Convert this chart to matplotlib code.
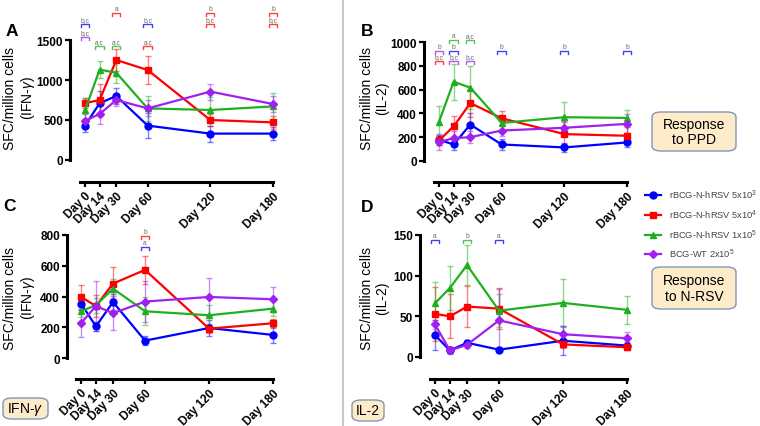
import matplotlib
matplotlib.use('Agg')
import matplotlib.pyplot as plt
from matplotlib.patches import FancyBboxPatch
from matplotlib.lines import Line2D

plt.rcParams['font.family'] = ['Liberation Sans', 'DejaVu Sans']
plt.rcParams['mathtext.fontset'] = 'custom'
plt.rcParams['mathtext.rm'] = 'Liberation Sans'
plt.rcParams['mathtext.it'] = 'Liberation Sans:italic'
plt.rcParams['mathtext.bf'] = 'Liberation Sans:bold'

W, H = 760, 427

# ---------------- data ----------------
days = [0, 14, 30, 60, 120, 180]
day_labels = ['Day 0', 'Day 14', 'Day 30', 'Day 60', 'Day 120', 'Day 180']
groups = ['rBCG-N-hRSV 5x10$^3$', 'rBCG-N-hRSV 5x10$^4$',
          'rBCG-N-hRSV 1x10$^5$', 'BCG-WT 2x10$^5$']
colors = ['#0000FF', '#FF0000', '#1FB01F', '#A020F0']
markers = ['o', 's', '^', 'D']

# Panel A: IFN-gamma, response to PPD
ifn_ppd_mean = [[430, 710, 800, 430, 330, 330],
                [710, 750, 1250, 1125, 500, 470],
                [620, 1130, 1090, 645, 625, 670],
                [490, 575, 750, 645, 855, 700]]
ifn_ppd_err = [[80, 150, 100, 160, 100, 80],
               [60, 200, 140, 180, 80, 80],
               [160, 110, 130, 160, 160, 170],
               [80, 120, 80, 100, 100, 100]]
# Panel B: IL-2, response to PPD
il2_ppd_mean = [[178, 139, 306, 139, 114, 156],
                [173, 290, 487, 359, 226, 212],
                [329, 666, 616, 320, 368, 362],
                [159, 192, 200, 256, 279, 312]]
il2_ppd_err = [[40, 50, 100, 50, 35, 40],
               [40, 90, 120, 60, 110, 70],
               [130, 150, 180, 60, 130, 70],
               [70, 60, 50, 50, 50, 80]]
# Panel C: IFN-gamma, response to N-RSV
ifn_rsv_mean = [[354, 206, 364, 113, 195, 150],
                [397, 338, 484, 573, 191, 226],
                [304, 343, 451, 304, 278, 321],
                [226, 338, 291, 367, 397, 382]]
ifn_rsv_err = [[40, 30, 50, 30, 50, 50],
               [80, 70, 110, 90, 30, 30],
               [40, 50, 60, 90, 65, 50],
               [90, 160, 110, 135, 125, 80]]
# Panel D: IL-2, response to N-RSV
il2_rsv_mean = [[27, 8, 17.5, 9, 20, 14],
                [53, 50, 62, 59.5, 15.5, 12],
                [66, 85, 113, 57, 66.5, 58],
                [40, 8, 15, 45, 28, 23]]
il2_rsv_err = [[18, 3, 4, 3, 18, 4],
               [33, 27, 25, 25, 5, 3],
               [26, 27, 25, 20, 30, 17],
               [5, 4, 4, 38, 10, 8]]

# significance brackets: (day, group index, level, text)
brackets_A = [(0, 0, 1700, 'b,c'), (0, 3, 1540, 'b,c'), (14, 2, 1425, 'a,c'),
              (30, 1, 1840, 'a'), (30, 2, 1425, 'a,c'), (60, 0, 1700, 'b,c'),
              (60, 1, 1425, 'a,c'), (120, 1, 1840, 'b'), (120, 1, 1700, 'b,c'),
              (180, 1, 1840, 'b'), (180, 1, 1700, 'b,c')]
brackets_B = [(0, 3, 924, 'b'), (0, 1, 840, 'b,c'), (14, 2, 1017, 'a'),
              (14, 0, 924, 'b'), (14, 3, 840, 'b,c'), (30, 2, 1017, 'a,c'),
              (30, 3, 840, 'b,c'), (60, 0, 924, 'b'), (120, 0, 924, 'b'),
              (180, 0, 924, 'b')]
brackets_C = [(60, 1, 793, 'b'), (60, 0, 722, 'a')]
brackets_D = [(0, 0, 144, 'a'), (30, 2, 144, 'b'), (60, 0, 144, 'a')]

fig = plt.figure(figsize=(W / 100, H / 100), dpi=100)


def make_ax(left, right, top, bottom, xlim, ylim, yticks, xaxis_px, spine_left_day):
    ax = fig.add_axes([left / W, 1 - bottom / H, (right - left) / W, (bottom - top) / H])
    ax.set_xlim(*xlim)
    ax.set_ylim(*ylim)
    ax.patch.set_alpha(0)
    for s in ['top', 'right']:
        ax.spines[s].set_visible(False)
    ax.spines['left'].set_linewidth(2.2)
    ax.spines['bottom'].set_linewidth(2.2)
    ax.spines['left'].set_bounds(ylim[0], yticks[-1])
    ax.spines['bottom'].set_bounds(spine_left_day, 180)
    ax.spines['bottom'].set_position(('outward', (xaxis_px - bottom) * 72 / 100))
    ax.set_yticks(yticks)
    ax.set_yticklabels([str(t) for t in yticks], fontweight='bold', fontsize=8.5)
    ax.set_xticks(days)
    ax.set_xticklabels(day_labels, rotation=45, ha='right', va='top',
                       rotation_mode='anchor', fontweight='bold', fontsize=8.5)
    ax.tick_params(axis='both', direction='out', length=3.5, width=1.6, pad=1.5)
    ax.tick_params(axis='x', pad=2)
    return ax


def draw_series(ax, means, errs):
    handles = []
    for i in range(4):
        ax.errorbar(days, means[i], yerr=errs[i], fmt='none', ecolor=colors[i],
                    alpha=0.5, elinewidth=1.0, capsize=2.5, capthick=1.0,
                    clip_on=False, zorder=2)
    for i in range(4):
        ms = 5 if markers[i] != 'D' else 4
        h, = ax.plot(days, means[i], color=colors[i], marker=markers[i],
                     markersize=ms, linewidth=1.6, clip_on=False, zorder=3)
        handles.append(h)
    return handles


def draw_brackets(ax, brackets):
    y0, y1 = ax.get_ylim()
    bb = ax.get_position()
    hpx = bb.height * H
    dy = 3 * (y1 - y0) / hpx
    dt = 1 * (y1 - y0) / hpx
    for d, g, lvl, txt in brackets:
        w = 4.0
        ax.plot([d - w, d - w, d + w, d + w], [lvl - dy, lvl, lvl, lvl - dy],
                color=colors[g], lw=1.0, alpha=0.75, clip_on=False,
                solid_joinstyle='miter')
        ax.text(d, lvl + dt, txt, ha='center', va='bottom', fontsize=4.8,
                color='#666666', clip_on=False)


# Panel A
axA = make_ax(70, 280, 41, 161, ((70 - 85) / 1.044, (280 - 85) / 1.044), (0, 1500),
              [0, 500, 1000, 1500], 183, -5)
handles = draw_series(axA, ifn_ppd_mean, ifn_ppd_err)
draw_brackets(axA, brackets_A)

# Panel B
axB = make_ax(424, 634, 43, 162, ((424 - 439) / 1.044, (634 - 439) / 1.044), (0, 1000),
              [0, 200, 400, 600, 800, 1000], 183, -5)
draw_series(axB, il2_ppd_mean, il2_ppd_err)
draw_brackets(axB, brackets_B)

# Panel C
axC = make_ax(67, 280, 236, 359, ((67 - 81) / 1.067, (280 - 81) / 1.067), (0, 800),
              [0, 200, 400, 600, 800], 380, -5)
draw_series(axC, ifn_rsv_mean, ifn_rsv_err)
draw_brackets(axC, brackets_C)

# Panel D
axD = make_ax(420, 634, 236, 358, ((420 - 435) / 1.067, (634 - 435) / 1.067), (0, 150),
              [0, 50, 100, 150], 380, -5)
draw_series(axD, il2_rsv_mean, il2_rsv_err)
draw_brackets(axD, brackets_D)


def ftext(x, y, s, **kw):
    fig.text(x / W, 1 - y / H, s, **kw)


# y labels
ftext(20, 98, 'SFC/million cells\n(IFN-$\\gamma$)', rotation=90, ha='center',
      va='center', fontsize=10, multialignment='center', linespacing=1.1)
ftext(375, 98, 'SFC/million cells\n(IL-2)', rotation=90, ha='center',
      va='center', fontsize=10, multialignment='center', linespacing=1.1)
ftext(20, 298, 'SFC/million cells\n(IFN-$\\gamma$)', rotation=90, ha='center',
      va='center', fontsize=10, multialignment='center', linespacing=1.1)
ftext(375, 298, 'SFC/million cells\n(IL-2)', rotation=90, ha='center',
      va='center', fontsize=10, multialignment='center', linespacing=1.1)

# panel letters
for (x, y, s) in [(12, 32, 'A'), (367, 31, 'B'), (10, 207, 'C'), (367, 208, 'D')]:
    ftext(x, y, s, ha='center', va='center', fontsize=12.5, fontweight='bold')

# divider line
fig.add_artist(Line2D([343 / W, 343 / W], [0, 1], color='#C8C8C8', lw=1.5))

# legend
fig.legend(handles, groups, loc='upper left',
           bbox_to_anchor=(641 / W, 1 - 185 / H), frameon=False, fontsize=6.7,
           handlelength=1.8, handletextpad=0.8, labelspacing=0.7,
           borderaxespad=0, labelcolor='#444444')


def box(x0, y0, x1, y1, text, fs):
    p = FancyBboxPatch((x0 / W, 1 - y1 / H), (x1 - x0) / W, (y1 - y0) / H,
                       boxstyle='round,pad=0,rounding_size=0.012',
                       transform=fig.transFigure, facecolor='#FDEBC9',
                       edgecolor='#7E98B8', lw=1.0)
    fig.add_artist(p)
    ftext((x0 + x1) / 2, (y0 + y1) / 2, text, ha='center', va='center',
          fontsize=fs, linespacing=1.1, multialignment='center')


box(652, 113, 736, 152, 'Response\nto PPD', 10)
box(652, 268, 736, 310, 'Response\nto N-RSV', 10)
box(3, 399, 48, 420, 'IFN-$\\gamma$', 10)
box(352, 401, 384, 422, 'IL-2', 10)

fig.savefig('out.png', dpi=100)
